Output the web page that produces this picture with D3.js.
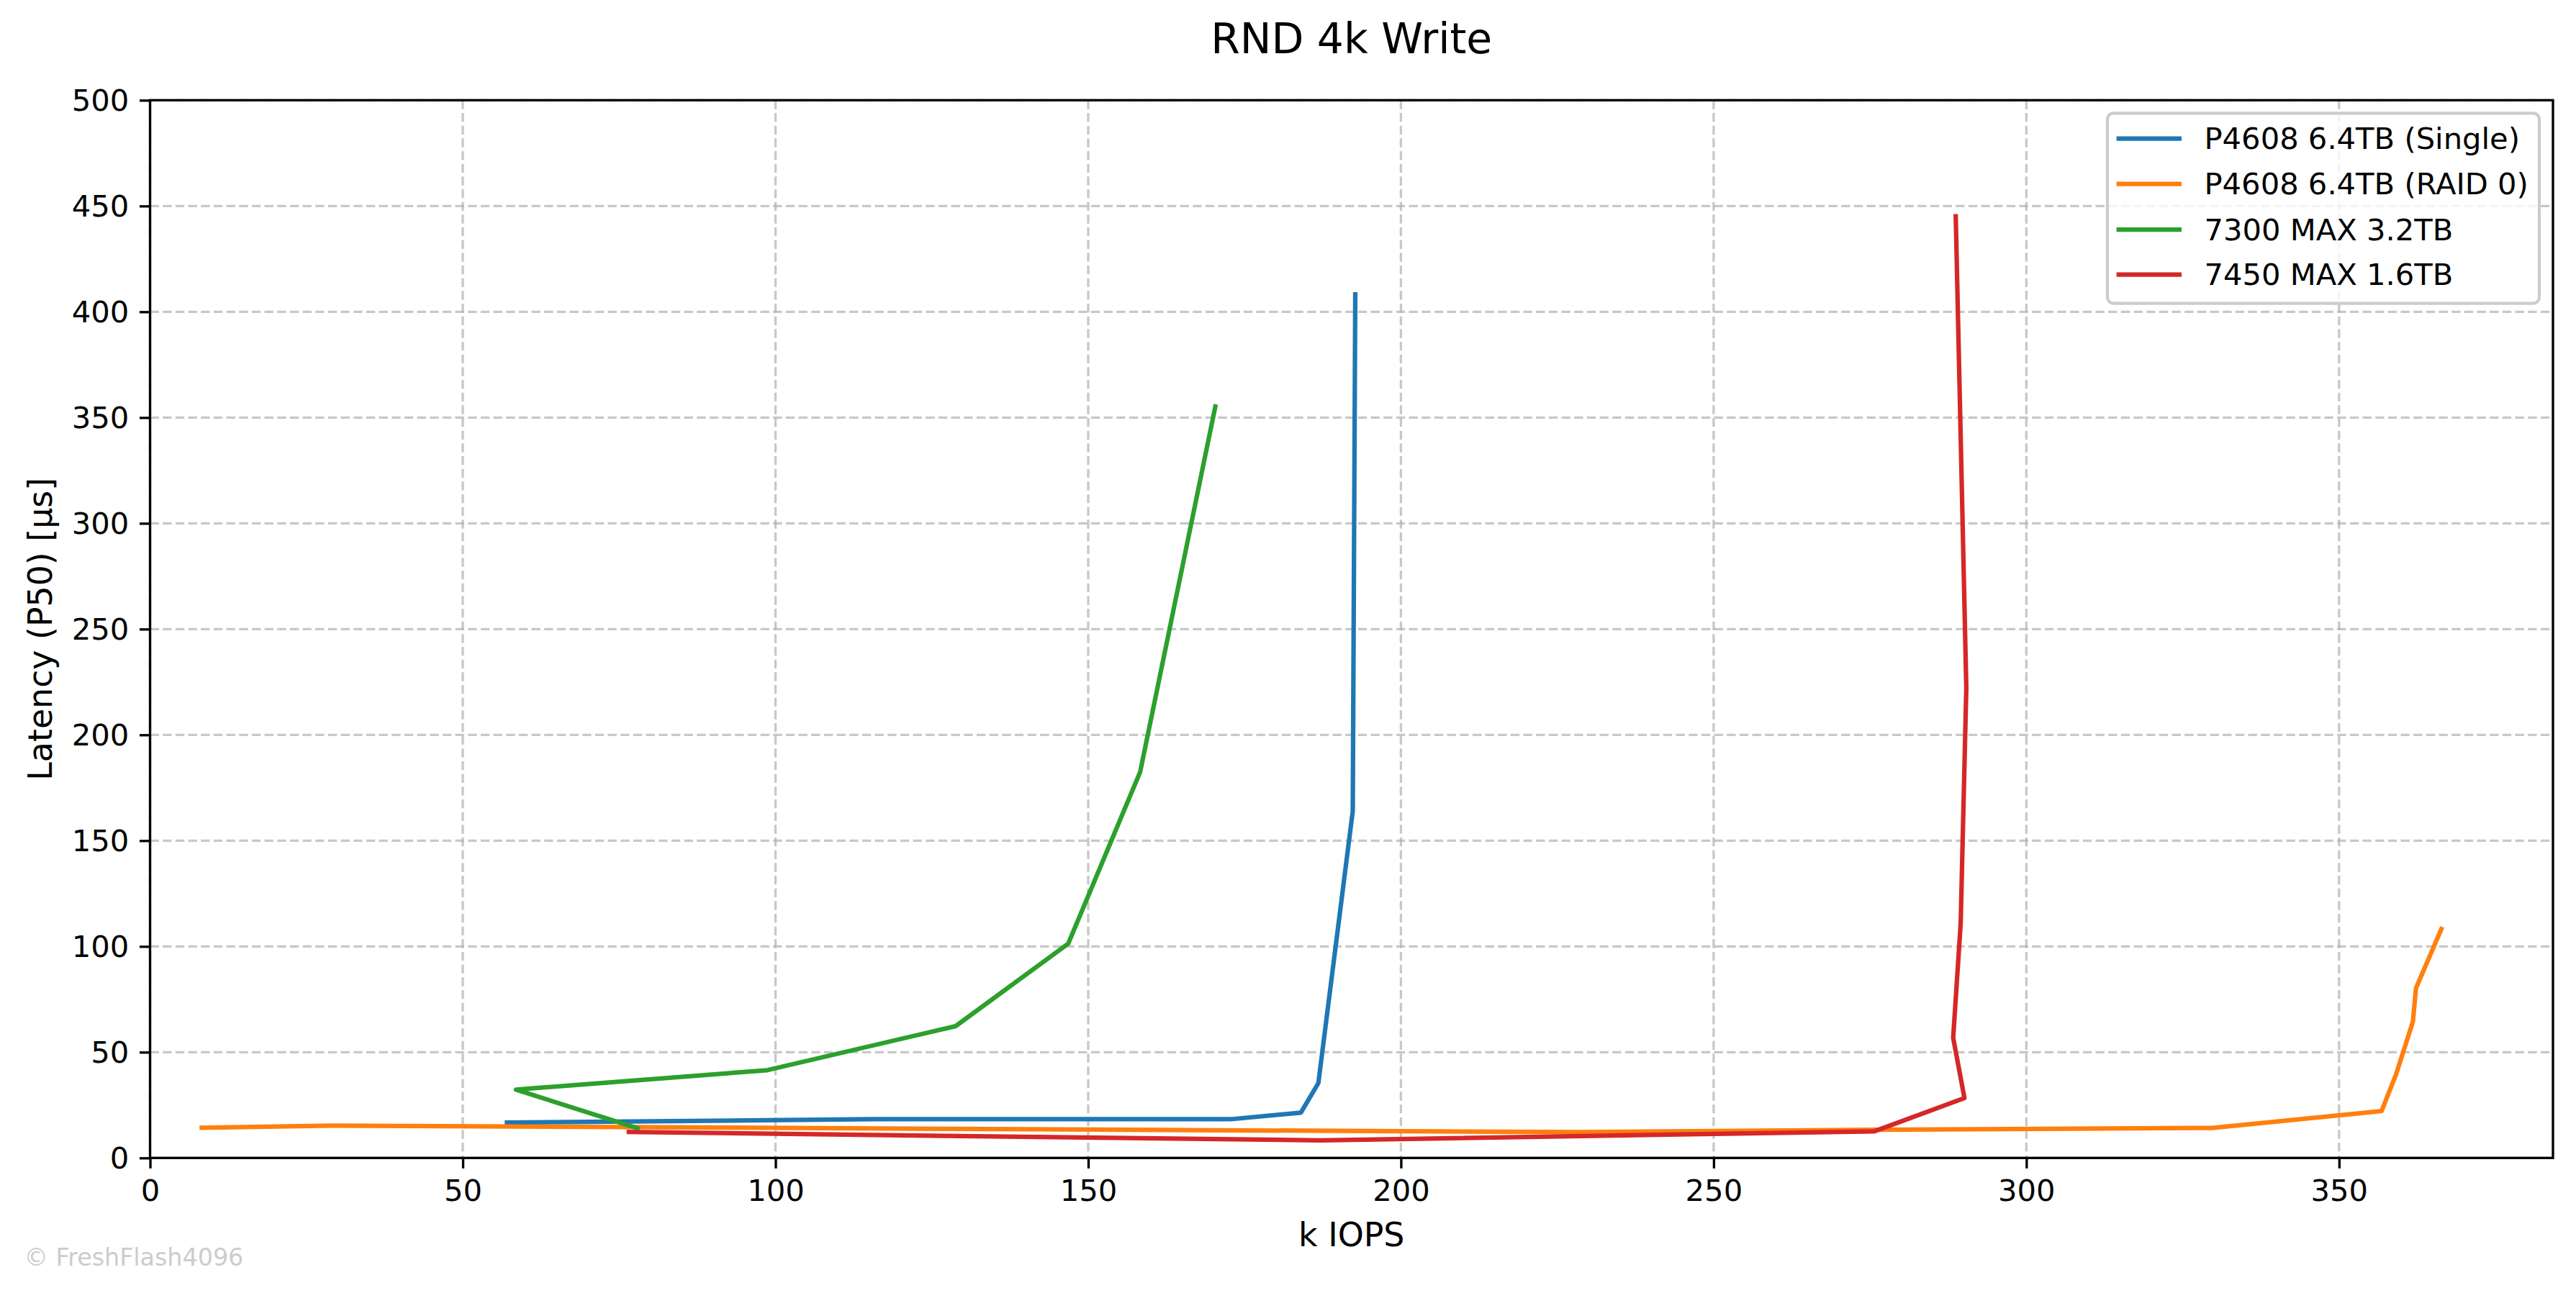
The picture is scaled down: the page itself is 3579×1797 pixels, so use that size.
<!DOCTYPE html>
<html>
<head>
<meta charset="utf-8">
<script src="https://cdn.jsdelivr.net/npm/d3@7"></script>
<style>
  html, body { margin: 0; padding: 0; background: #ffffff; }
  svg { display: block; font-family: "DejaVu Sans", sans-serif; }
</style>
</head>
<body>
<script>
// ---- data ----
const chartTitle = "RND 4k Write";
const xLabel = "k IOPS";
const yLabel = "Latency (P50) [µs]";
const watermark = "© FreshFlash4096";
const xTicks = [0, 50, 100, 150, 200, 250, 300, 350];
const yTicks = [0, 50, 100, 150, 200, 250, 300, 350, 400, 450, 500];
const seriesNames = ["P4608 6.4TB (Single)", "P4608 6.4TB (RAID 0)", "7300 MAX 3.2TB", "7450 MAX 1.6TB"];
const seriesColors = ["#1f77b4", "#ff7f0e", "#2ca02c", "#d62728"];
// [k IOPS, latency µs]
const p4608Single = [[56.7, 16.7], [115.5, 18.3], [172.8, 18.3], [184.0, 21.4], [186.8, 35.4], [192.3, 164.0], [192.7, 409.3]];
const p4608Raid0 = [[7.9, 14.3], [29.1, 15.3], [228.4, 12.2], [275.7, 13.3], [329.7, 14.2], [356.8, 22.2], [359.1, 39.4], [361.8, 64.4], [362.3, 80.3], [366.5, 109.2]];
const max7300 = [[78.3, 13.7], [58.5, 32.3], [98.7, 41.5], [128.8, 62.3], [146.8, 101.3], [158.3, 182.4], [170.4, 356.3]];
const max7450 = [[76.2, 12.3], [187.1, 8.3], [275.7, 12.6], [290.1, 28.3], [288.3, 56.8], [289.5, 110.9], [290.4, 222.2], [288.7, 446.2]];
const seriesData = [p4608Single, p4608Raid0, max7300, max7450];
const xDomain = [0, 384.2];
const yDomain = [0, 500];

// ---- layout ----
const W = 3579, H = 1797;
const M = { left: 208.5, top: 139.3, right: 3547, bottom: 1609.3 };
const pt = 300 / 72;

const svg = d3.select("body").append("svg").attr("width", W).attr("height", H);
svg.append("rect").attr("width", W).attr("height", H).attr("fill", "#fff");

const x = d3.scaleLinear().domain(xDomain).range([M.left, M.right]);
const y = d3.scaleLinear().domain(yDomain).range([M.bottom, M.top]);

// grid
const grid = svg.append("g")
  .attr("stroke", "#b0b0b0").attr("stroke-opacity", 0.7)
  .attr("stroke-width", 0.8 * pt)
  .attr("stroke-dasharray", `${3.7 * 0.8 * pt},${1.6 * 0.8 * pt}`);
grid.selectAll("line.gx").data(xTicks).join("line")
  .attr("x1", d => x(d)).attr("x2", d => x(d))
  .attr("y1", M.top).attr("y2", M.bottom);
grid.selectAll("line.gy").data(yTicks).join("line")
  .attr("y1", d => y(d)).attr("y2", d => y(d))
  .attr("x1", M.left).attr("x2", M.right);

// lines
const clip = svg.append("clipPath").attr("id", "clip").append("rect")
  .attr("x", M.left).attr("y", M.top).attr("width", M.right - M.left).attr("height", M.bottom - M.top);
const line = d3.line().x(d => x(d[0])).y(d => y(d[1]));
svg.append("g").attr("clip-path", "url(#clip)")
  .selectAll("path").data(seriesData).join("path")
  .attr("d", line)
  .attr("fill", "none")
  .attr("stroke", (d, i) => seriesColors[i])
  .attr("stroke-width", 1.5 * pt)
  .attr("stroke-linejoin", "round")
  .attr("stroke-linecap", "butt");

// axes
const fs = 10 * pt;
const xAxis = svg.append("g").attr("transform", `translate(0,${M.bottom})`)
  .call(d3.axisBottom(x).tickValues(xTicks).tickSize(3.5 * pt).tickPadding(3.5 * pt).tickFormat(d3.format("d")));
const yAxis = svg.append("g").attr("transform", `translate(${M.left},0)`)
  .call(d3.axisLeft(y).tickValues(yTicks).tickSize(3.5 * pt).tickPadding(3.5 * pt).tickFormat(d3.format("d")));
[xAxis, yAxis].forEach(a => {
  a.select(".domain").remove();
  a.selectAll(".tick line").attr("stroke", "#000").attr("stroke-width", 0.8 * pt);
  a.selectAll(".tick text").attr("font-size", fs).attr("fill", "#000")
    .attr("font-family", "DejaVu Sans");
});
xAxis.selectAll(".tick text").attr("dy", null).attr("y", null)
  .attr("transform", null)
  .attr("dominant-baseline", null)
  .each(function() { d3.select(this).attr("y", 1669.5 - M.bottom); });
yAxis.selectAll(".tick text").attr("dy", "0.35em");

// spines
svg.append("rect")
  .attr("x", M.left).attr("y", M.top)
  .attr("width", M.right - M.left).attr("height", M.bottom - M.top)
  .attr("fill", "none").attr("stroke", "#000").attr("stroke-width", 0.8 * pt);

// title & labels
svg.append("text").attr("x", (M.left + M.right) / 2).attr("y", 74)
  .attr("text-anchor", "middle").attr("font-size", 14 * pt).attr("fill", "#000").text(chartTitle);
svg.append("text").attr("x", (M.left + M.right) / 2).attr("y", 1732.3)
  .attr("text-anchor", "middle").attr("font-size", 11 * pt).attr("fill", "#000").text(xLabel);
svg.append("text").attr("transform", `translate(72,${(M.top + M.bottom) / 2}) rotate(-90)`)
  .attr("text-anchor", "middle").attr("font-size", 11 * pt).attr("fill", "#000").text(yLabel);
svg.append("text").attr("x", 33.5).attr("y", 1759.3)
  .attr("font-size", 8 * pt).attr("fill", "#cccccc").text(watermark);

// legend
const lg = svg.append("g");
const lx = 2928, ly = 157.3, lw = 600, lh = 264.4;
lg.append("rect").attr("x", lx).attr("y", ly).attr("width", lw).attr("height", lh)
  .attr("rx", 0.2 * fs).attr("ry", 0.2 * fs)
  .attr("fill", "#fff").attr("fill-opacity", 0.8)
  .attr("stroke", "#cccccc").attr("stroke-width", 1 * pt);
const rowY = [192.7, 255.7, 319, 381.7];
const items = lg.selectAll("g.item").data(seriesNames).join("g")
  .attr("transform", (d, i) => `translate(0,${rowY[i]})`);
items.append("line").attr("x1", 2940.6).attr("x2", 3031)
  .attr("y1", 0).attr("y2", 0)
  .attr("stroke", (d, i) => seriesColors[i]).attr("stroke-width", 1.5 * pt);
items.append("text").attr("x", 3062.5).attr("y", 0).attr("dy", "0.35em")
  .attr("font-size", fs).attr("fill", "#000").text(d => d);
</script>
</body>
</html>
